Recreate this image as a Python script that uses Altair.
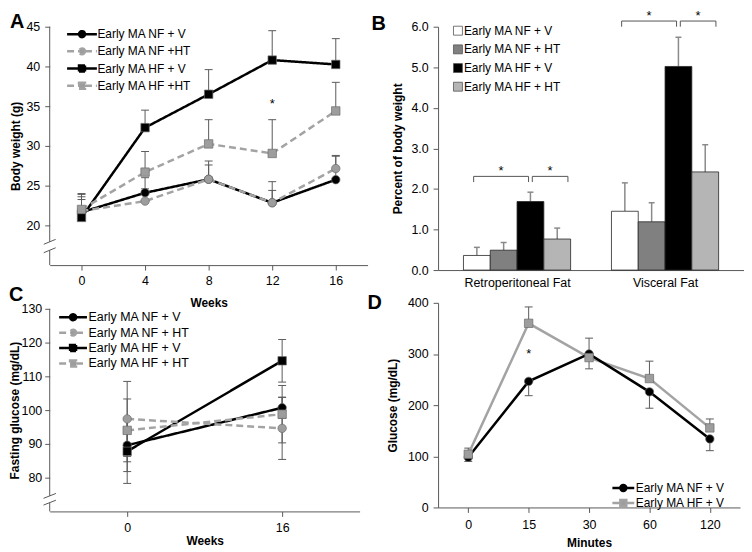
import altair as alt
import pandas as pd

FONT = "Liberation Sans"

# ---------------- data ----------------
# Panel A: body weight (g) by week
weeks_a = [0, 4, 8, 12, 16]
series_a = ["Early MA NF + V", "Early MA NF +HT", "Early MA HF + V", "Early MA HF +HT"]
a_nf_v = [21.65, 24.1, 25.8, 22.85, 25.75]
a_nf_ht = [21.8, 23.05, 25.8, 22.85, 27.15]
a_hf_v = [21.0, 32.3, 36.5, 40.8, 40.25]
a_hf_ht = [22.0, 26.7, 30.25, 29.05, 34.4]
a_err_nf_v = [1.95, 1.9, 1.8, 1.55, 2.95]
a_err_nf_ht = [1.45, 1.55, 2.3, 2.65, 1.65]
a_err_hf_v = [3.0, 2.2, 3.1, 3.7, 3.25]
a_err_hf_ht = [1.9, 2.6, 3.05, 4.25, 3.6]
a_star_week = [12]
a_star_value = [35.6]
a_ticks_y = [20, 25, 30, 35, 40, 45]

# Panel B: fat pads, percent of body weight
fat_sites = ["Retroperitoneal Fat", "Visceral Fat"]
series_b = ["Early MA NF + V", "Early MA NF + HT", "Early MA HF + V", "Early MA HF + HT"]
b_nf_v = [0.36, 1.45]
b_nf_ht = [0.49, 1.19]
b_hf_v = [1.69, 5.02]
b_hf_ht = [0.765, 2.42]
b_err_nf_v = [0.20, 0.70]
b_err_nf_ht = [0.19, 0.47]
b_err_hf_v = [0.23, 0.72]
b_err_hf_ht = [0.27, 0.67]
b_ticks_y = [0, 1, 2, 3, 4, 5, 6]
# significance brackets: site index, from / to (in bar-index units), height
b_br_site = [0, 0, 1, 1]
b_br_from = [-0.12, 2.07, -0.12, 2.07]
b_br_to = [1.93, 3.4, 1.93, 3.4]
b_br_level = [2.31, 2.31, 6.14, 6.14]

# Panel C: fasting glucose
weeks_c = ["0", "16"]
series_c = ["Early MA NF + V", "Early MA NF + HT", "Early MA HF + V", "Early MA HF + HT"]
c_nf_v = [89.6, 100.7]
c_nf_ht = [97.4, 94.6]
c_hf_v = [87.8, 114.6]
c_hf_ht = [94.0, 98.8]
c_err_nf_v = [7.8, 3.1]
c_err_nf_ht = [11.1, 9.2]
c_err_hf_v = [9.5, 6.3]
c_err_hf_ht = [9.3, 8.5]
c_ticks_y = [80, 90, 100, 110, 120, 130]

# Panel D: glucose tolerance test
minutes_d = ["0", "15", "30", "60", "120"]
series_d = ["Early MA NF + V", "Early MA HF + V"]
d_nf_v = [98, 246.5, 300, 226, 134]
d_hf_v = [104, 360, 293, 252, 155.5]
d_err_nf_v = [8, 28, 29, 32, 23]      # shown downward
d_err_hf_v = [12, 32, 38, 34, 17.5]   # shown upward
d_star_minute = ["15"]
d_star_value = [305]
d_ticks_y = [0, 100, 200, 300, 400]

# ---------------- styles ----------------
BLACK = "#000000"
GRAY_LINE = "#a3a3a3"
GRAY_MARK = "#9d9d9d"
MARK_EDGE = "#6b6b6b"
AXIS_C = "#595959"
ERR_C = "#5a5a5a"
SOLID = [1, 0]
DASH = [7, 4]
NONPOS = dict(fill="independent", stroke="independent", strokeDash="independent", shape="independent")


def sym(kind, half):
    line = f"M-{half},0L-0.6,0M0.6,0L{half},0"
    if kind == "circle":
        mk = "M0.6,0A0.6,0.6,0,1,1,-0.6,0A0.6,0.6,0,1,1,0.6,0Z"
    else:
        mk = "M-0.6,-0.6L0.6,-0.6L0.6,0.6L-0.6,0.6Z"
    return line + mk


def letter(text, offset, dx):
    return alt.TitleParams(text=text, anchor="start", frame="group", fontSize=20,
                           fontWeight="bold", font=FONT, color="#000", offset=offset, dx=dx)


def long_df(series, xs, vals, errs, xname):
    rows = []
    for s, vv, ee in zip(series, vals, errs):
        for i, (x, v, e) in enumerate(zip(xs, vv, ee)):
            rows.append({"series": s, xname: x, "idx": i, "value": v, "up": v + e, "lo": v - e})
    return pd.DataFrame(rows)


def star(df, x, y):
    return alt.Chart(df).mark_text(text="*", font=FONT, fontSize=13, baseline="alphabetic",
                                   dy=7, color="#000").encode(x=x, y=y)


# ================= Panel A =================
dfA = long_df(series_a, weeks_a, [a_nf_v, a_nf_ht, a_hf_v, a_hf_ht],
              [a_err_nf_v, a_err_nf_ht, a_err_hf_v, a_err_hf_ht], "week")
xA_scale = alt.Scale(domain=[-2, 18], nice=False, zero=False)
yA_scale = alt.Scale(domain=[15, 45], nice=False, zero=False)


def xA(f):
    return alt.X(f, type="quantitative", scale=xA_scale,
                 axis=alt.Axis(values=weeks_a, title="Weeks", titlePadding=10))


def yA(f):
    return alt.Y(f, type="quantitative", scale=yA_scale,
                 axis=alt.Axis(values=a_ticks_y, title="Body weight (g)", domain=False, titlePadding=4))


legA = alt.Legend(orient="none", legendX=26, legendY=1, title=None, labelFont=FONT, labelFontSize=12,
                  labelColor="#000", symbolSize=100, symbolStrokeWidth=2.5, symbolOpacity=1,
                  rowPadding=0.3, labelOffset=9, padding=0)
fillA = alt.Fill("series:N", scale=alt.Scale(domain=series_a, range=[BLACK, GRAY_MARK, BLACK, GRAY_MARK]), legend=legA)
strokeA = alt.Stroke("series:N", scale=alt.Scale(domain=series_a, range=[BLACK, GRAY_LINE, BLACK, GRAY_LINE]), legend=legA)
dashA = alt.StrokeDash("series:N", scale=alt.Scale(domain=series_a, range=[SOLID, DASH, SOLID, DASH]), legend=legA)
shapeA = alt.Shape("series:N", scale=alt.Scale(domain=series_a, range=[sym("circle", 3), sym("circle", 3), sym("square", 3), sym("square", 3)]), legend=legA)

BREAK_A, GAP_A, SX_A, SY_A = 17.4, 0.53, 0.375, 0.31
axA = pd.DataFrame({"x": [-2, -2], "y": [15, BREAK_A + GAP_A], "y2": [BREAK_A - GAP_A, 45]})
slA = pd.DataFrame({"x": [-2 - SX_A] * 2, "x2": [-2 + SX_A] * 2,
                    "y": [BREAK_A - GAP_A - SY_A, BREAK_A + GAP_A - SY_A],
                    "y2": [BREAK_A - GAP_A + SY_A, BREAK_A + GAP_A + SY_A]})

baseA = alt.Chart(dfA)
panelA = alt.layer(
    alt.Chart(axA).mark_rule(color=AXIS_C, strokeWidth=1).encode(x=xA("x"), y=yA("y"), y2="y2:Q"),
    alt.Chart(slA).mark_rule(color=AXIS_C, strokeWidth=1).encode(x=xA("x"), x2="x2:Q", y=yA("y"), y2="y2:Q"),
    baseA.mark_rule(color=ERR_C, strokeWidth=1).encode(x=xA("week"), y=yA("value"), y2="up:Q"),
    baseA.mark_tick(orient="horizontal", size=8, thickness=1, color=ERR_C, opacity=1).encode(x=xA("week"), y=yA("up")),
    baseA.transform_filter(alt.FieldOneOfPredicate(field="series", oneOf=[series_a[0], series_a[2]]))
         .mark_line(strokeWidth=2.5).encode(x=xA("week"), y=yA("value"), stroke=strokeA, strokeDash=dashA),
    baseA.transform_filter(alt.FieldOneOfPredicate(field="series", oneOf=[series_a[1], series_a[3]]))
         .mark_line(strokeWidth=2.5).encode(x=xA("week"), y=yA("value"), stroke=strokeA, strokeDash=dashA),
    baseA.transform_filter(alt.FieldOneOfPredicate(field="series", oneOf=series_a[:2]))
         .mark_point(shape="circle", filled=True, size=72, stroke=MARK_EDGE, strokeWidth=0.7, opacity=1)
         .encode(x=xA("week"), y=yA("value"), fill=fillA),
    baseA.transform_filter(alt.FieldOneOfPredicate(field="series", oneOf=series_a[2:]))
         .mark_square(filled=True, size=72, stroke=MARK_EDGE, strokeWidth=0.7, opacity=1)
         .encode(x=xA("week"), y=yA("value"), fill=fillA),
    star(pd.DataFrame({"week": a_star_week, "value": a_star_value}), xA("week"), yA("value")),
    baseA.transform_filter("false").mark_point(filled=True, opacity=1, strokeWidth=2.5)
         .encode(shape=shapeA, fill=fillA, stroke=strokeA, strokeDash=dashA),
).properties(width=320, height=240, title=letter("A", -11, -40))

# ================= Panel B =================
BW = 0.181
rowsB = []
for i, (s, vv, ee) in enumerate(zip(series_b, [b_nf_v, b_nf_ht, b_hf_v, b_hf_ht],
                                    [b_err_nf_v, b_err_nf_ht, b_err_hf_v, b_err_hf_ht])):
    for g, (site, v, e) in enumerate(zip(fat_sites, vv, ee)):
        rowsB.append({"series": s, "i": i, "site": site, "g": g, "value": v, "err": e})
dfB = pd.DataFrame(rowsB)
xB_scale = alt.Scale(domain=[0, 2], nice=False, zero=False)
yB_scale = alt.Scale(domain=[0, 6], nice=False, zero=False)
label_expr = f"datum.value < 1 ? '{fat_sites[0]}' : '{fat_sites[1]}'"


def xB(f):
    return alt.X(f, type="quantitative", scale=xB_scale,
                 axis=alt.Axis(values=[0.5, 1.5], labelExpr=label_expr, ticks=False, title=None, labelPadding=7))


def yB(f):
    return alt.Y(f, type="quantitative", scale=yB_scale,
                 axis=alt.Axis(values=b_ticks_y, format=".1f", title="Percent of body weight", titlePadding=6))


legB = alt.Legend(orient="none", legendX=14, legendY=-2, title=None, labelFont=FONT, labelFontSize=12,
                  labelColor="#000", symbolType="square", symbolSize=81, symbolStrokeColor="#555",
                  symbolStrokeWidth=0.8, symbolOpacity=1, rowPadding=4.8, labelOffset=0, padding=0)
fillB = alt.Fill("series:N", scale=alt.Scale(domain=series_b, range=["#ffffff", "#808080", "#000000", "#b5b5b5"]), legend=legB)

baseB = alt.Chart(dfB).transform_calculate(
    xc=f"datum.g + 0.5 + (datum.i - 1.5) * {BW}"
).transform_calculate(
    xl=f"datum.xc - {BW / 2}", xr=f"datum.xc + {BW / 2}", up="datum.value + datum.err", base="0"
)
dfBr = pd.DataFrame({"g": b_br_site, "a": b_br_from, "b": b_br_to, "level": b_br_level})
baseBr = alt.Chart(dfBr).transform_calculate(
    xa=f"datum.g + 0.5 + (datum.a - 1.5) * {BW}", xb=f"datum.g + 0.5 + (datum.b - 1.5) * {BW}"
).transform_calculate(xm="(datum.xa + datum.xb) / 2", low="datum.level - 0.14")

panelB = alt.layer(
    baseB.mark_rule(color="#8a8a8a", strokeWidth=1.5).encode(x=xB("xc"), y=yB("value"), y2="up:Q"),
    baseB.mark_tick(orient="horizontal", size=6, thickness=1.5, color="#8a8a8a", opacity=1).encode(x=xB("xc"), y=yB("up")),
    baseB.mark_bar(orient="vertical", stroke="#262626", strokeWidth=0.8).encode(
        x=xB("xl"), x2="xr:Q", y=yB("value"), y2="base:Q", fill=fillB),
    baseBr.mark_rule(color="#555", strokeWidth=1).encode(x=xB("xa"), x2="xb:Q", y=yB("level")),
    baseBr.mark_rule(color="#555", strokeWidth=1).encode(x=xB("xa"), y=yB("level"), y2="low:Q"),
    baseBr.mark_rule(color="#555", strokeWidth=1).encode(x=xB("xb"), y=yB("level"), y2="low:Q"),
    baseBr.mark_text(text="*", font=FONT, fontSize=13, baseline="alphabetic", dy=-1, color="#000")
          .encode(x=xB("xm"), y=yB("level")),
).properties(width=308, height=245, title=letter("B", -24, -67))

# ================= Panel C =================
dfC = long_df(series_c, weeks_c, [c_nf_v, c_nf_ht, c_hf_v, c_hf_ht],
              [c_err_nf_v, c_err_nf_ht, c_err_hf_v, c_err_hf_ht], "week")
xC_scale = alt.Scale(domain=[-0.5, 1.5], nice=False, zero=False)
yC_scale = alt.Scale(domain=[70, 130], nice=False, zero=False)
labels_c = "[" + ",".join(f"'{w}'" for w in weeks_c) + "][datum.value]"


def xC(f):
    return alt.X(f, type="quantitative", scale=xC_scale,
                 axis=alt.Axis(values=list(range(len(weeks_c))), labelExpr=labels_c, title="Weeks",
                               titlePadding=2, labelPadding=5))


def yC(f):
    return alt.Y(f, type="quantitative", scale=yC_scale,
                 axis=alt.Axis(values=c_ticks_y, title="Fasting glucose (mg/dL)", domain=False,
                               titlePadding=0, labelPadding=3))


legC = alt.Legend(orient="none", legendX=17, legendY=2, title=None, labelFont=FONT, labelFontSize=12.5,
                  labelColor="#000", symbolSize=100, symbolStrokeWidth=2.5, symbolOpacity=1,
                  rowPadding=-1.5, labelOffset=9, padding=0)
fillC = alt.Fill("series:N", scale=alt.Scale(domain=series_c, range=[BLACK, GRAY_MARK, BLACK, GRAY_MARK]), legend=legC)
strokeC = alt.Stroke("series:N", scale=alt.Scale(domain=series_c, range=[BLACK, GRAY_LINE, BLACK, GRAY_LINE]), legend=legC)
dashC = alt.StrokeDash("series:N", scale=alt.Scale(domain=series_c, range=[SOLID, DASH, SOLID, DASH]), legend=legC)
shapeC = alt.Shape("series:N", scale=alt.Scale(domain=series_c, range=[sym("circle", 2.8), sym("circle", 2.8), sym("square", 2.8), sym("square", 2.8)]), legend=legC)

BREAK_C, GAP_C, SX_C, SY_C = 73.6, 1.0, 0.04, 0.72
axC = pd.DataFrame({"x": [-0.5, -0.5], "y": [70, BREAK_C + GAP_C], "y2": [BREAK_C - GAP_C, 130]})
slC = pd.DataFrame({"x": [-0.5 - SX_C] * 2, "x2": [-0.5 + SX_C] * 2,
                    "y": [BREAK_C - GAP_C - SY_C, BREAK_C + GAP_C - SY_C],
                    "y2": [BREAK_C - GAP_C + SY_C, BREAK_C + GAP_C + SY_C]})
baseC = alt.Chart(dfC)
panelC = alt.layer(
    alt.Chart(axC).mark_rule(color=AXIS_C, strokeWidth=1).encode(x=xC("x"), y=yC("y"), y2="y2:Q"),
    alt.Chart(slC).mark_rule(color=AXIS_C, strokeWidth=1).encode(x=xC("x"), x2="x2:Q", y=yC("y"), y2="y2:Q"),
    baseC.mark_rule(color=ERR_C, strokeWidth=1).encode(x=xC("idx"), y=yC("lo"), y2="up:Q"),
    baseC.mark_tick(orient="horizontal", size=8, thickness=1, color=ERR_C, opacity=1).encode(x=xC("idx"), y=yC("up")),
    baseC.mark_tick(orient="horizontal", size=8, thickness=1, color=ERR_C, opacity=1).encode(x=xC("idx"), y=yC("lo")),
    baseC.transform_filter(alt.FieldOneOfPredicate(field="series", oneOf=[series_c[0], series_c[2]]))
         .mark_line(strokeWidth=2.5).encode(x=xC("idx"), y=yC("value"), stroke=strokeC, strokeDash=dashC),
    baseC.transform_filter(alt.FieldOneOfPredicate(field="series", oneOf=[series_c[1], series_c[3]]))
         .mark_line(strokeWidth=2.5).encode(x=xC("idx"), y=yC("value"), stroke=strokeC, strokeDash=dashC),
    baseC.transform_filter(alt.FieldOneOfPredicate(field="series", oneOf=series_c[:2]))
         .mark_point(shape="circle", filled=True, size=72, stroke=MARK_EDGE, strokeWidth=0.7, opacity=1)
         .encode(x=xC("idx"), y=yC("value"), fill=fillC),
    baseC.transform_filter(alt.FieldOneOfPredicate(field="series", oneOf=series_c[2:]))
         .mark_square(filled=True, size=72, stroke=MARK_EDGE, strokeWidth=0.7, opacity=1)
         .encode(x=xC("idx"), y=yC("value"), fill=fillC),
    baseC.transform_filter("false").mark_point(filled=True, opacity=1, strokeWidth=2.5)
         .encode(shape=shapeC, fill=fillC, stroke=strokeC, strokeDash=dashC),
).properties(width=312, height=204, title=letter("C", -2, -41))

# ================= Panel D =================
rowsD = []
for s, vv, ee, sign in zip(series_d, [d_nf_v, d_hf_v], [d_err_nf_v, d_err_hf_v], [-1, 1]):
    for m, v, e in zip(minutes_d, vv, ee):
        rowsD.append({"series": s, "minute": m, "value": v, "tip": v + sign * e})
dfD = pd.DataFrame(rowsD)
xD_scale = alt.Scale(type="point", padding=0.5)
yD_scale = alt.Scale(domain=[0, 400], nice=False)


def xD(f):
    return alt.X(f, type="ordinal", sort=minutes_d, scale=xD_scale,
                 axis=alt.Axis(title="Minutes", labelAngle=0, titlePadding=7, labelPadding=6))


def yD(f):
    return alt.Y(f, type="quantitative", scale=yD_scale,
                 axis=alt.Axis(values=d_ticks_y, title="Glucose (mg/dL)", titlePadding=8))


legD = alt.Legend(orient="none", legendX=180, legendY=180, title=None, labelFont=FONT, labelFontSize=12,
                  labelColor="#000", symbolSize=100, symbolStrokeWidth=2.5, symbolOpacity=1,
                  rowPadding=-2, labelOffset=6, padding=0)
fillD = alt.Fill("series:N", scale=alt.Scale(domain=series_d, range=[BLACK, GRAY_MARK]), legend=legD)
strokeD = alt.Stroke("series:N", scale=alt.Scale(domain=series_d, range=[BLACK, GRAY_LINE]), legend=legD)
shapeD = alt.Shape("series:N", scale=alt.Scale(domain=series_d, range=[sym("circle", 2.2), sym("square", 2.2)]), legend=legD)

baseD = alt.Chart(dfD)
panelD = alt.layer(
    baseD.mark_rule(color=ERR_C, strokeWidth=1).encode(x=xD("minute"), y=yD("value"), y2="tip:Q"),
    baseD.mark_tick(orient="horizontal", size=8, thickness=1, color=ERR_C, opacity=1).encode(x=xD("minute"), y=yD("tip")),
    baseD.transform_filter(alt.FieldOneOfPredicate(field="series", oneOf=[series_d[1]]))
         .mark_line(strokeWidth=2.5).encode(x=xD("minute"), y=yD("value"), stroke=strokeD),
    baseD.transform_filter(alt.FieldOneOfPredicate(field="series", oneOf=[series_d[0]]))
         .mark_line(strokeWidth=2.5).encode(x=xD("minute"), y=yD("value"), stroke=strokeD),
    baseD.transform_filter(alt.FieldOneOfPredicate(field="series", oneOf=[series_d[0]]))
         .mark_point(shape="circle", filled=True, size=72, stroke=MARK_EDGE, strokeWidth=0.7, opacity=1)
         .encode(x=xD("minute"), y=yD("value"), fill=fillD),
    baseD.transform_filter(alt.FieldOneOfPredicate(field="series", oneOf=[series_d[1]]))
         .mark_square(filled=True, size=72, stroke=MARK_EDGE, strokeWidth=0.7, opacity=1)
         .encode(x=xD("minute"), y=yD("value"), fill=fillD),
    star(pd.DataFrame({"minute": d_star_minute, "value": d_star_value}), xD("minute"), yD("value")),
    baseD.transform_filter("false").mark_point(filled=True, opacity=1, strokeWidth=2.5)
         .encode(shape=shapeD, fill=fillD, stroke=strokeD),
).properties(width=304, height=206, title=letter("D", -16, -71))

# ================= layout =================
col1 = alt.vconcat(panelA, panelC, spacing=-33).resolve_scale(**NONPOS)
col2 = alt.vconcat(panelB, panelD, spacing=3).resolve_scale(**NONPOS)
chart = alt.hconcat(col1, col2, spacing=0).resolve_scale(**NONPOS).properties(
    padding=0
).configure_view(stroke=None).configure_axis(
    labelFont=FONT, labelFontSize=12.5, labelColor="#000", titleFont=FONT, titleFontSize=12,
    titleFontWeight="bold", titleColor="#000", tickColor=AXIS_C, domainColor=AXIS_C,
    tickSize=5, labelPadding=5, grid=False, domainWidth=1, tickWidth=1
)

chart.save("out.html", embed_options={"renderer": "svg", "actions": False})
